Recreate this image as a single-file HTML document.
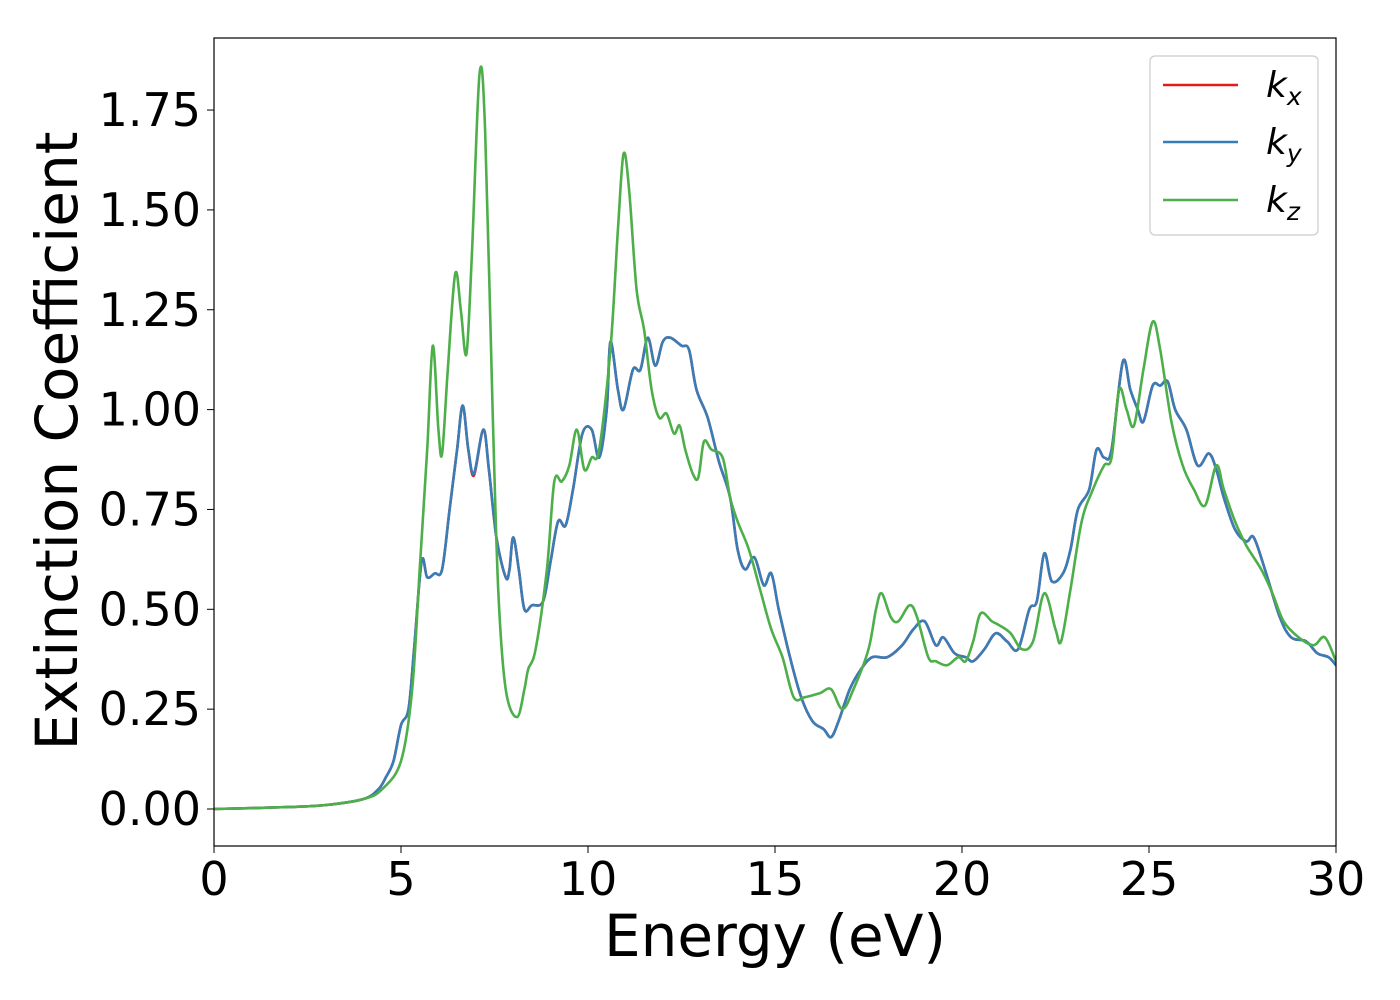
<!DOCTYPE html>
<html><head><meta charset="utf-8"><style>
body{margin:0;background:#fff;}
svg{display:block;font-family:"DejaVu Sans","Liberation Sans",sans-serif;}
</style></head><body>
<svg id="chart" width="1400" height="1000" viewBox="0 0 1400 1000" xmlns="http://www.w3.org/2000/svg">
<rect width="1400" height="1000" fill="#fff"/>
<g id="series"></g>
<rect x="214" y="38" width="1122" height="808" fill="none" stroke="#000" stroke-width="1.2"/>
<g id="xticks"></g>
<g id="yticks"></g>
<text x="775" y="956" font-size="58" text-anchor="middle">Energy (eV)</text>
<text transform="translate(77,441) rotate(-90)" font-size="58" text-anchor="middle">Extinction Coefficient</text>
<g>
<rect x="1150" y="56" width="168" height="179" rx="5" fill="#fff" stroke="#ccc" stroke-width="1.2"/>
<line x1="1163" y1="85" x2="1238" y2="85" stroke="#e41a1c" stroke-width="2.5"/>
<text x="1266" y="97" font-size="36" font-style="italic">k<tspan font-size="25" dy="8">x</tspan></text>
<line x1="1163" y1="142" x2="1238" y2="142" stroke="#377eb8" stroke-width="2.5"/>
<text x="1266" y="154" font-size="36" font-style="italic">k<tspan font-size="25" dy="8">y</tspan></text>
<line x1="1163" y1="200" x2="1238" y2="200" stroke="#4daf4a" stroke-width="2.5"/>
<text x="1266" y="212" font-size="36" font-style="italic">k<tspan font-size="25" dy="8">z</tspan></text>
</g>
</svg>
<script>
const xTicks=[0,5,10,15,20,25,30];
const yTicks=[0,0.25,0.5,0.75,1.0,1.25,1.5,1.75];
const yTickLabels=["0.00","0.25","0.50","0.75","1.00","1.25","1.50","1.75"];
const kyE=[0,2,3,4,4.4,4.6,4.8,5.0,5.2,5.35,5.55,5.7,5.9,6.1,6.3,6.5,6.65,6.8,6.95,7.2,7.35,7.55,7.8,7.9,8.0,8.15,8.3,8.5,8.8,9.0,9.2,9.4,9.6,9.85,10.1,10.3,10.5,10.6,10.8,10.95,11.2,11.4,11.6,11.8,12.0,12.2,12.5,12.7,12.9,13.2,13.5,13.8,14.0,14.2,14.45,14.7,14.9,15.1,15.4,15.7,16.0,16.3,16.5,16.7,17.0,17.3,17.6,18.0,18.4,18.7,19.0,19.3,19.5,19.8,20.1,20.3,20.6,20.9,21.2,21.5,21.8,22.0,22.2,22.4,22.7,22.9,23.1,23.4,23.6,23.8,24.0,24.3,24.5,24.7,24.85,25.1,25.3,25.5,25.7,26.0,26.3,26.6,26.8,27.0,27.3,27.6,27.8,28.1,28.5,28.8,29.2,29.5,29.8,30];
const kyV=[0,0.005,0.01,0.025,0.05,0.08,0.12,0.21,0.25,0.4,0.62,0.58,0.59,0.6,0.75,0.9,1.01,0.9,0.84,0.95,0.85,0.68,0.58,0.6,0.68,0.6,0.5,0.51,0.52,0.62,0.72,0.71,0.8,0.94,0.95,0.88,1.0,1.17,1.05,1.0,1.1,1.1,1.18,1.11,1.17,1.18,1.16,1.15,1.05,0.98,0.87,0.78,0.65,0.6,0.63,0.56,0.59,0.5,0.38,0.28,0.22,0.2,0.18,0.22,0.3,0.35,0.38,0.38,0.41,0.45,0.47,0.41,0.43,0.39,0.38,0.37,0.4,0.44,0.42,0.4,0.5,0.52,0.64,0.57,0.59,0.65,0.75,0.8,0.9,0.88,0.9,1.12,1.05,1.0,0.97,1.06,1.06,1.07,1.0,0.95,0.86,0.89,0.85,0.78,0.7,0.67,0.68,0.6,0.48,0.43,0.42,0.39,0.38,0.36];
const kxE=kyE.slice();
const kxV=[0,0.005,0.01,0.025,0.05,0.08,0.12,0.21,0.25,0.4,0.62,0.58,0.59,0.6,0.75,0.9,1.01,0.9,0.835,0.95,0.85,0.68,0.58,0.6,0.68,0.6,0.5,0.51,0.52,0.62,0.72,0.71,0.8,0.94,0.95,0.88,1.0,1.17,1.05,1.0,1.1,1.1,1.18,1.11,1.17,1.18,1.16,1.15,1.05,0.98,0.87,0.78,0.65,0.6,0.63,0.56,0.59,0.5,0.38,0.28,0.22,0.2,0.18,0.22,0.3,0.35,0.38,0.38,0.41,0.45,0.47,0.41,0.43,0.39,0.38,0.37,0.4,0.44,0.42,0.4,0.5,0.52,0.64,0.57,0.59,0.65,0.75,0.8,0.9,0.88,0.9,1.12,1.05,1.0,0.97,1.06,1.06,1.07,1.0,0.95,0.86,0.89,0.85,0.78,0.7,0.67,0.68,0.6,0.48,0.43,0.42,0.39,0.38,0.36];
const kzE=[0,2,3,4,4.5,5,5.3,5.5,5.7,5.85,6.0,6.1,6.25,6.45,6.6,6.75,6.9,7.1,7.25,7.45,7.6,7.8,8.1,8.3,8.4,8.6,8.9,9.1,9.3,9.5,9.7,9.9,10.1,10.3,10.6,10.8,10.95,11.1,11.3,11.5,11.7,11.9,12.1,12.3,12.45,12.6,12.8,12.95,13.1,13.3,13.6,13.8,14.0,14.3,14.6,14.9,15.2,15.5,15.8,16.2,16.5,16.8,17.1,17.5,17.7,17.85,18.1,18.3,18.6,18.8,19.1,19.3,19.6,19.9,20.1,20.3,20.5,20.8,21.0,21.3,21.6,21.9,22.2,22.5,22.65,22.9,23.2,23.5,23.8,24.0,24.2,24.4,24.6,24.85,25.1,25.3,25.6,25.9,26.2,26.5,26.8,27.0,27.3,27.6,28.0,28.3,28.6,29.0,29.4,29.7,30];
const kzV=[0,0.005,0.01,0.025,0.05,0.12,0.3,0.6,0.9,1.16,0.95,0.89,1.1,1.34,1.25,1.14,1.4,1.84,1.7,1.0,0.55,0.3,0.23,0.3,0.35,0.4,0.6,0.82,0.82,0.86,0.95,0.85,0.88,0.9,1.15,1.45,1.64,1.55,1.3,1.2,1.05,0.98,0.99,0.94,0.96,0.9,0.84,0.83,0.92,0.9,0.88,0.78,0.72,0.65,0.55,0.45,0.38,0.28,0.28,0.29,0.3,0.25,0.3,0.4,0.5,0.54,0.48,0.47,0.51,0.48,0.38,0.37,0.36,0.38,0.37,0.42,0.49,0.47,0.46,0.44,0.4,0.42,0.54,0.45,0.42,0.55,0.72,0.8,0.86,0.88,1.05,1.0,0.96,1.1,1.22,1.15,0.97,0.86,0.8,0.76,0.86,0.8,0.72,0.66,0.6,0.54,0.47,0.43,0.41,0.43,0.37];

const X0=214,X1=1336,Y0=809,YPU=399.4;
function xs(v){return X0+(v/30)*(X1-X0);}
function ys(v){return Y0-v*YPU;}
const NS='http://www.w3.org/2000/svg';
function smoothPath(E,V){
  const p=E.map((e,i)=>[xs(e),ys(V[i])]);
  let d='M'+p[0][0].toFixed(1)+','+p[0][1].toFixed(1);
  for(let i=0;i<p.length-1;i++){
    const a=p[Math.max(0,i-1)],b=p[i],c=p[i+1],e=p[Math.min(p.length-1,i+2)];
    const c1x=b[0]+(c[0]-a[0])/6,c1y=b[1]+(c[1]-a[1])/6;
    const c2x=c[0]-(e[0]-b[0])/6,c2y=c[1]-(e[1]-b[1])/6;
    d+=' C'+c1x.toFixed(1)+','+c1y.toFixed(1)+' '+c2x.toFixed(1)+','+c2y.toFixed(1)+' '+c[0].toFixed(1)+','+c[1].toFixed(1);
  }
  return d;
}
const sg=document.getElementById('series');
const clip=document.createElementNS(NS,'clipPath');clip.setAttribute('id','pc');
const cr=document.createElementNS(NS,'rect');cr.setAttribute('x',X0);cr.setAttribute('y',38);cr.setAttribute('width',X1-X0);cr.setAttribute('height',808);
clip.appendChild(cr);sg.appendChild(clip);
function addLine(E,V,col,name){
  const pth=document.createElementNS(NS,'path');
  pth.setAttribute('d',smoothPath(E,V));
  pth.setAttribute('fill','none');pth.setAttribute('stroke',col);pth.setAttribute('stroke-width','2.6');
  pth.setAttribute('stroke-linejoin','round');pth.setAttribute('clip-path','url(#pc)');
  
  
  sg.appendChild(pth);
}
addLine(kxE,kxV,'#e41a1c','line-kx');
addLine(kyE,kyV,'#377eb8','line-ky');
addLine(kzE,kzV,'#4daf4a','line-kz');

const xg=document.getElementById('xticks');
xTicks.forEach(t=>{
  const l=document.createElementNS(NS,'line');
  l.setAttribute('x1',xs(t));l.setAttribute('x2',xs(t));l.setAttribute('y1',846);l.setAttribute('y2',853);l.setAttribute('stroke','#000');
  
  
  xg.appendChild(l);
  const tx=document.createElementNS(NS,'text');
  tx.setAttribute('x',xs(t));tx.setAttribute('y',895);tx.setAttribute('font-size','46');tx.setAttribute('text-anchor','middle');
  tx.textContent=String(t);
  
  
  xg.appendChild(tx);
});
const yg=document.getElementById('yticks');
yTicks.forEach((t,i)=>{
  const l=document.createElementNS(NS,'line');
  l.setAttribute('x1',207);l.setAttribute('x2',214);l.setAttribute('y1',ys(t));l.setAttribute('y2',ys(t));l.setAttribute('stroke','#000');
  
  
  yg.appendChild(l);
  const tx=document.createElementNS(NS,'text');
  tx.setAttribute('x',201);tx.setAttribute('y',ys(t)+16);tx.setAttribute('font-size','46');tx.setAttribute('text-anchor','end');
  tx.textContent=yTickLabels[i];
  
  
  yg.appendChild(tx);
});
</script>
</body></html>
